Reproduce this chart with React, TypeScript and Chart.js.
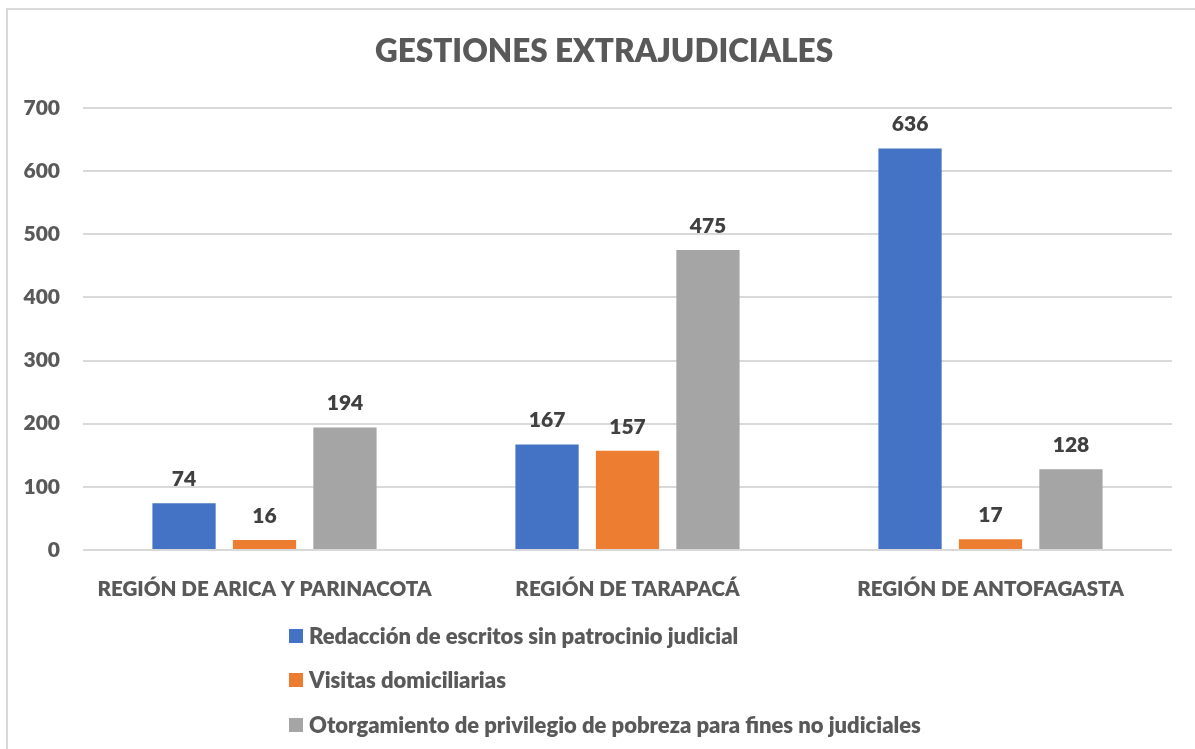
import React, { useEffect, useRef } from "react";
import { Chart, registerables } from "chart.js";

Chart.register(...registerables);

const categories = ["REGIÓN DE ARICA Y PARINACOTA", "REGIÓN DE TARAPACÁ", "REGIÓN DE ANTOFAGASTA"];
const seriesNames = [
  "Redacción de escritos sin patrocinio judicial",
  "Visitas domiciliarias",
  "Otorgamiento de privilegio de pobreza para fines no judiciales",
];
const redaccion = [74, 167, 636];
const visitas = [16, 157, 17];
const otorgamiento = [194, 475, 128];
const seriesColors = ["#4472C4", "#ED7D31", "#A5A5A5"];
const yTicks = [0, 100, 200, 300, 400, 500, 600, 700];
const titleText = "GESTIONES EXTRAJUDICIALES";

const FONT = "Lato";
const WEIGHT = "800";
const TEXT = "#595959";

const framePlugin = {
  id: "frame",
  beforeDraw(chart: any) {
    const ctx = chart.ctx;
    ctx.save();
    ctx.fillStyle = "#ffffff";
    ctx.fillRect(0, 0, chart.width, chart.height);
    ctx.strokeStyle = "#d9d9d9";
    ctx.lineWidth = 2;
    ctx.beginPath();
    ctx.moveTo(7, chart.height);
    ctx.lineTo(7, 9);
    ctx.lineTo(chart.width, 9);
    ctx.stroke();
    ctx.font = `${WEIGHT} 31.5px ${FONT}`;
    ctx.fillStyle = TEXT;
    ctx.textAlign = "center";
    ctx.textBaseline = "alphabetic";
    ctx.fillText(titleText, 604, 62);
    ctx.restore();
  },
};

const valueLabelPlugin = {
  id: "valueLabels",
  afterDatasetsDraw(chart: any) {
    const ctx = chart.ctx;
    ctx.save();
    ctx.font = `${WEIGHT} 21px ${FONT}`;
    ctx.fillStyle = "#404040";
    ctx.textAlign = "center";
    ctx.textBaseline = "middle";
    chart.data.datasets.forEach((ds: any, i: number) => {
      const meta = chart.getDatasetMeta(i);
      meta.data.forEach((bar: any, j: number) => {
        ctx.fillText(String(ds.data[j]), bar.x, bar.y - 24);
      });
    });
    ctx.restore();
  },
};

const legendPlugin = {
  id: "customLegend",
  afterDraw(chart: any) {
    const ctx = chart.ctx;
    ctx.save();
    ctx.font = `${WEIGHT} 22px ${FONT}`;
    ctx.textAlign = "left";
    ctx.textBaseline = "middle";
    const x0 = 289;
    const rows = [636, 680, 725];
    chart.data.datasets.forEach((ds: any, i: number) => {
      const y = rows[i];
      ctx.fillStyle = ds.backgroundColor;
      ctx.fillRect(x0, y - 7, 14, 14);
      ctx.fillStyle = TEXT;
      ctx.fillText(ds.label, x0 + 20, y + 1);
    });
    ctx.restore();
  },
};

export default function App() {
  const ref = useRef<HTMLCanvasElement>(null);
  useEffect(() => {
    if (!ref.current) return;
    const chart = new Chart(ref.current, {
      type: "bar",
      data: {
        labels: categories,
        datasets: [redaccion, visitas, otorgamiento].map((d, i) => ({
          label: seriesNames[i],
          data: d,
          backgroundColor: seriesColors[i],
          borderWidth: 0,
          categoryPercentage: 0.665,
          barPercentage: 0.786,
        })),
      },
      options: {
        animation: false,
        responsive: false,
        layout: { padding: { left: 0, right: 23, top: 108, bottom: 139 } },
        plugins: {
          legend: { display: false },
          tooltip: { enabled: false },
          title: { display: false },
        },
        scales: {
          x: {
            grid: { display: false },
            border: { display: false },
            ticks: {
              color: TEXT,
              font: { family: FONT, size: 20.6, weight: WEIGHT, lineHeight: 1.2 },
              padding: 19,
              maxRotation: 0,
            },
            afterFit(scale: any) {
              scale.height = 60;
            },
          },
          y: {
            min: 0,
            max: 700,
            afterBuildTicks(scale: any) {
              scale.ticks = yTicks.map((v) => ({ value: v }));
            },
            grid: { color: "#d9d9d9", lineWidth: 2, drawTicks: false },
            border: { display: false },
            ticks: {
              color: TEXT,
              font: { family: FONT, size: 21, weight: WEIGHT },
              padding: 23,
            },
            afterFit(scale: any) {
              scale.width = 83;
            },
          },
        },
      },
      plugins: [framePlugin, valueLabelPlugin, legendPlugin],
    } as any);
    return () => chart.destroy();
  }, []);
  return (
    <div style={{ position: "absolute", left: 0, top: 0, width: 1195, height: 749 }}>
      <canvas ref={ref} width={1195} height={749} style={{ display: "block", width: 1195, height: 749 }} />
    </div>
  );
}
